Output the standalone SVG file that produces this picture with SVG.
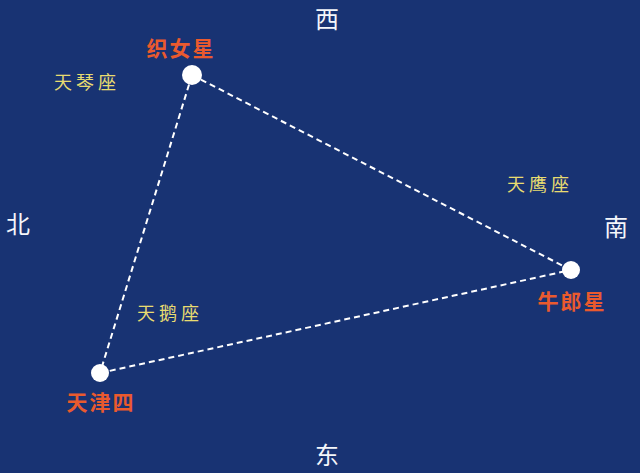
<svg xmlns="http://www.w3.org/2000/svg" width="640" height="473" viewBox="0 0 640 473">
<style>
.dir{font-family:"Noto Sans CJK SC",sans-serif;font-size:24px;fill:#f4f6fa;text-anchor:middle}
.star{font-family:"Noto Sans CJK SC",sans-serif;font-size:21px;font-weight:bold;fill:#ea5a2e;text-anchor:middle;letter-spacing:2px}
.con{font-family:"Noto Sans CJK SC",sans-serif;font-size:18px;fill:#e8dc70;text-anchor:middle;letter-spacing:4px}
.link{stroke:#ffffff;stroke-width:2;stroke-dasharray:6,4;fill:none}
.dot{fill:#ffffff}
</style>
<rect width="640" height="473" fill="#183373"/>
<g id="connectors">
<line class="link" x1="192" y1="75" x2="571" y2="270"/>
<line class="link" x1="192" y1="75" x2="100" y2="373"/>
<line class="link" x1="100" y1="373" x2="571" y2="270"/>
</g>
<g id="vega"><circle class="dot" cx="192" cy="75" r="10"/><text class="star" x="181" y="56">织女星</text></g>
<g id="altair"><circle class="dot" cx="571" cy="270" r="9"/><text class="star" x="572" y="309">牛郎星</text></g>
<g id="deneb"><circle class="dot" cx="100" cy="373" r="9"/><text class="star" x="101" y="410">天津四</text></g>
<g id="lyra"><text class="con" x="87" y="89">天琴座</text></g>
<g id="aquila"><text class="con" x="540" y="191">天鹰座</text></g>
<g id="cygnus"><text class="con" x="170" y="320">天鹅座</text></g>
<g id="west"><text class="dir" x="327" y="28">西</text></g>
<g id="north"><text class="dir" x="18" y="233">北</text></g>
<g id="south"><text class="dir" x="616" y="236">南</text></g>
<g id="east"><text class="dir" x="327" y="464">东</text></g>
</svg>
